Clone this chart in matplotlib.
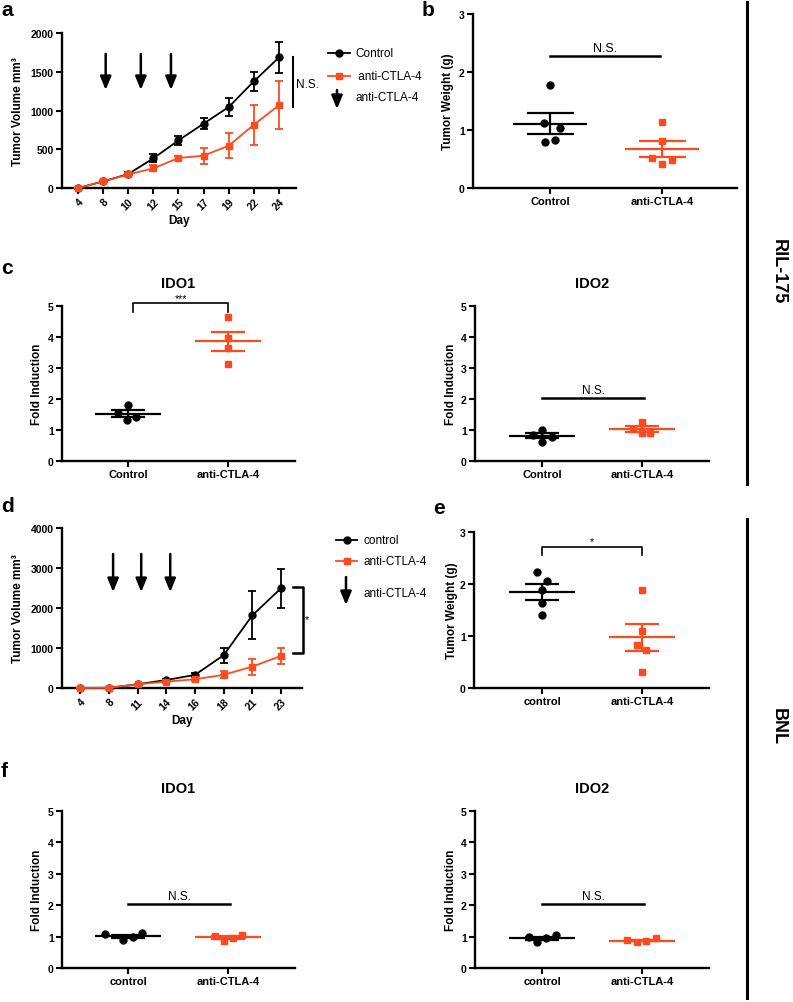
import numpy as np
import matplotlib.pyplot as plt
from matplotlib.lines import Line2D

plt.rcParams['font.family'] = ['Liberation Sans', 'DejaVu Sans']

# ---- data ----
# a: RIL-175 tumour growth
days_a = ['4', '8', '10', '12', '15', '17', '19', '22', '24']
ctrl_a = [0, 85, 180, 383, 615, 830, 1045, 1376, 1684]
ctrl_a_sem = [0, 12, 25, 50, 55, 75, 110, 125, 200]
anti_a = [0, 85, 175, 254, 387, 417, 546, 816, 1068]
anti_a_sem = [0, 12, 25, 40, 30, 105, 160, 255, 310]
arrows_a = [1.1, 2.5, 3.7]

# b: RIL-175 tumour weight
b_ctrl = [1.77, 1.12, 1.03, 0.79, 0.835]
b_anti = [1.13, 0.81, 0.52, 0.49, 0.41]

# c: RIL-175 IDO1 / IDO2
c1_ctrl = [1.82, 1.54, 1.43, 1.31]
c1_anti = [4.65, 3.98, 3.66, 3.14]
c2_ctrl = [1.00, 0.84, 0.785, 0.61]
c2_anti = [1.27, 1.04, 0.91, 0.89]

# d: BNL tumour growth
days_d = ['4', '8', '11', '14', '16', '18', '21', '23']
ctrl_d = [0, 5, 92, 200, 326, 820, 1816, 2494]
ctrl_d_sem = [0, 5, 15, 30, 40, 185, 600, 485]
anti_d = [0, 5, 90, 160, 218, 330, 536, 803]
anti_d_sem = [0, 5, 15, 40, 40, 90, 200, 200]
arrows_d = [1.15, 2.13, 3.14]

# e: BNL tumour weight
e_ctrl = [2.24, 2.06, 1.88, 1.63, 1.40]
e_anti = [1.89, 1.10, 0.83, 0.73, 0.31]

# f: BNL IDO1 / IDO2
f1_ctrl = [1.08, 0.88, 0.98, 1.11]
f1_anti = [1.02, 0.87, 0.96, 1.06]
f2_ctrl = [1.00, 0.83, 0.94, 1.04]
f2_anti = [0.89, 0.82, 0.85, 0.94]

# horizontal scatter of the dots (layout only)
b_dx = ([0, -0.054, 0.089, -0.05, 0.039], [0, 0, -0.09, 0.09, 0])
c1_dx = ([0, -0.1, 0.083, -0.007], [0, 0, 0, 0])
c2_dx = ([0, -0.09, 0.1, 0], [0, -0.09, 0.083, 0])
e_dx = ([-0.05, 0.05, 0, 0, 0], [0, 0, -0.05, 0.043, 0])
f1_dx = ([-0.233, -0.05, 0.05, 0.143], [-0.133, -0.043, 0.05, 0.143])
f2_dx = ([-0.133, -0.05, 0.04, 0.14], [-0.147, -0.05, 0.043, 0.137])

RED = '#FF4A1F'
W, H = 793, 1003
fig = plt.figure(figsize=(W / 100, H / 100), dpi=100)
ARROW = '-|>,head_width=0.33,head_length=0.8'


def fx(x):
    return x / W


def fy(y):
    return 1 - y / H


def px_axes(l, t, r, b):
    return fig.add_axes([l / W, 1 - b / H, (r - l) / W, (b - t) / H])


def style(ax, ylim, yticks, ylabel, label_x):
    ax.set_ylim(ylim)
    ax.set_yticks(yticks)
    ax.set_yticklabels([str(t) for t in yticks], fontweight='bold', fontsize=7.5)
    for s in ['top', 'right']:
        ax.spines[s].set_visible(False)
    for s in ['left', 'bottom']:
        ax.spines[s].set_linewidth(1.7)
    ax.tick_params(width=1.5, length=4, pad=2)
    ax.set_ylabel(ylabel, fontweight='bold', fontsize=8.5, va='center')
    ax.yaxis.set_label_coords(label_x, 0.5)


def growth(ax, days, ctrl, ctrl_sem, anti, anti_sem):
    x = np.arange(len(days))
    ax.errorbar(x, ctrl, yerr=ctrl_sem, color='k', marker='o', ms=5, lw=1.3,
                elinewidth=1.3, capsize=2.6, capthick=1.3, zorder=3, clip_on=False)
    ax.errorbar(x, anti, yerr=anti_sem, color=RED, marker='s', ms=5, lw=1.3,
                elinewidth=1.3, capsize=2.6, capthick=1.3, zorder=4, clip_on=False)
    ax.set_xticks(x)
    ax.set_xticklabels(days, rotation=45, ha='right', rotation_mode='anchor',
                       fontweight='bold', fontsize=7.5)
    ax.set_xlabel('Day', fontweight='bold', fontsize=8.5, labelpad=2)


def injection_arrows(ax, xs, y0, y1):
    for xi in xs:
        ax.annotate('', xy=(xi, y1), xytext=(xi, y0),
                    arrowprops=dict(arrowstyle=ARROW, color='k', lw=1.8,
                                    shrinkA=0, shrinkB=0))


def dots(ax, ctrl, anti, dx, labels, sem_w=0.17):
    for i, (vals, off, col, mk) in enumerate([(ctrl, dx[0], 'k', 'o'),
                                              (anti, dx[1], RED, 's')]):
        v = np.array(vals)
        m = v.mean()
        se = v.std(ddof=1) / np.sqrt(len(v))
        ax.plot(i + np.array(off), v, mk, color=col, ms=5, zorder=3, clip_on=False)
        ax.hlines(m, i - 0.33, i + 0.33, color=col, lw=1.6)
        ax.hlines([m - se, m + se], i - sem_w, i + sem_w, color=col, lw=1.6)
        ax.vlines(i, m - se, m + se, color=col, lw=1.6)
    ax.set_xticks([0, 1])
    ax.set_xticklabels(labels, fontweight='bold', fontsize=8)
    ax.tick_params(axis='x', pad=3.5)


def ns_bar(ax, y, ty):
    ax.plot([0, 1.02], [y, y], color='k', lw=1.8, clip_on=False)
    ax.text(0.51, ty, 'N.S.', ha='center', va='center', fontsize=8.5)


def bracket(ax, x0, x1, ytop, ydrop, txt, ty):
    ax.plot([x0, x0, x1, x1], [ydrop, ytop, ytop, ydrop], color='k', lw=1.2, clip_on=False)
    ax.text((x0 + x1) / 2, ty, txt, ha='center', va='center', fontsize=7.5)


def legend(x_line, x_text, ys, names, x_arrow, arrow_y, arrow_ty):
    for y, name, col, mk in zip(ys, names, ['k', RED], ['o', 's']):
        fig.add_artist(Line2D([fx(x_line[0]), fx(x_line[1])], [fy(y), fy(y)], color=col, lw=1.3))
        fig.add_artist(Line2D([fx(sum(x_line) / 2)], [fy(y)], color=col, marker=mk, ms=5))
        fig.text(fx(x_text), fy(y), name, ha='left', va='center', fontsize=8.5)
    ax_any = fig.axes[0]
    ax_any.annotate('', xy=(fx(x_arrow), fy(arrow_y[1])), xycoords='figure fraction',
                    xytext=(fx(x_arrow), fy(arrow_y[0])), textcoords='figure fraction',
                    arrowprops=dict(arrowstyle=ARROW, color='k', lw=1.8,
                                    shrinkA=0, shrinkB=0),
                    annotation_clip=False)
    fig.text(fx(x_text), fy(arrow_ty), 'anti-CTLA-4', ha='left', va='center', fontsize=8.5)


# ---- a ----
ax = px_axes(62, 34, 296, 189)
growth(ax, days_a, ctrl_a, ctrl_a_sem, anti_a, anti_a_sem)
ax.set_xlim(-0.64, 8.68)
style(ax, (0, 2000), [0, 500, 1000, 1500, 2000], 'Tumor Volume mm³', -0.19)
injection_arrows(ax, arrows_a, 1730, 1265)
ax.plot([8.56, 8.56], [1690, 1045], color='k', lw=1.5, clip_on=False)
ax.text(8.68, 1342, 'N.S.', ha='left', va='center', fontsize=8.5)
legend((328, 350), 355, (54, 77), ['Control', ' anti-CTLA-4'], 337, (91, 110), 98)

# ---- b ----
ax = px_axes(473, 15, 737, 189)
dots(ax, b_ctrl, b_anti, b_dx, ['Control', 'anti-CTLA-4'], sem_w=0.21)
ax.set_xlim(-0.69, 1.67)
style(ax, (0, 3), [0, 1, 2, 3], 'Tumor Weight (g)', -0.095)
ax.plot([0, 0.98], [2.27, 2.27], color='k', lw=1.8)
ax.text(0.49, 2.41, 'N.S.', ha='center', va='center', fontsize=9)

# ---- c ----
ax = px_axes(62, 307, 295, 462)
dots(ax, c1_ctrl, c1_anti, c1_dx, ['Control', 'anti-CTLA-4'])
ax.set_xlim(-0.66, 1.67)
style(ax, (0, 5), [0, 1, 2, 3, 4, 5], 'Fold Induction', -0.107)
ax.set_title('IDO1', fontweight='bold', fontsize=10.5, pad=14)
bracket(ax, 0.05, 1.0, 5.11, 4.81, '***', 5.24)

ax = px_axes(475, 307, 709, 462)
dots(ax, c2_ctrl, c2_anti, c2_dx, ['Control', 'anti-CTLA-4'])
ax.set_xlim(-0.67, 1.67)
style(ax, (0, 5), [0, 1, 2, 3, 4, 5], 'Fold Induction', -0.103)
ax.set_title('IDO2', fontweight='bold', fontsize=10.5, pad=14)
ns_bar(ax, 2.02, 2.28)

# ---- d ----
ax = px_axes(62, 529, 302, 689)
growth(ax, days_d, ctrl_d, ctrl_d_sem, anti_d, anti_d_sem)
ax.set_xlim(-0.63, 7.73)
style(ax, (0, 4000), [0, 1000, 2000, 3000, 4000], 'Tumor Volume mm³', -0.183)
injection_arrows(ax, arrows_d, 3350, 2400)
ax.plot([7.42, 7.77, 7.77, 7.42], [2525, 2525, 875, 875], color='k', lw=1.8, clip_on=False)
ax.text(7.91, 1725, '*', ha='center', va='center', fontsize=7.5)
legend((336, 357), 363, (541, 562), ['control', 'anti-CTLA-4'], 346, (578, 606), 594)

# ---- e ----
ax = px_axes(474, 533, 709, 689)
dots(ax, e_ctrl, e_anti, e_dx, ['control', 'anti-CTLA-4'])
ax.set_xlim(-0.68, 1.67)
style(ax, (0, 3), [0, 1, 2, 3], 'Tumor Weight (g)', -0.094)
bracket(ax, 0.0, 1.0, 2.71, 2.56, '*', 2.82)

# ---- f ----
ax = px_axes(62, 812, 295, 969)
dots(ax, f1_ctrl, f1_anti, f1_dx, ['control', 'anti-CTLA-4'])
ax.set_xlim(-0.66, 1.67)
style(ax, (0, 5), [0, 1, 2, 3, 4, 5], 'Fold Induction', -0.107)
ax.set_title('IDO1', fontweight='bold', fontsize=10.5, pad=14)
ns_bar(ax, 2.04, 2.29)

ax = px_axes(475, 812, 709, 969)
dots(ax, f2_ctrl, f2_anti, f2_dx, ['control', 'anti-CTLA-4'])
ax.set_xlim(-0.67, 1.67)
style(ax, (0, 5), [0, 1, 2, 3, 4, 5], 'Fold Induction', -0.103)
ax.set_title('IDO2', fontweight='bold', fontsize=10.5, pad=14)
ns_bar(ax, 2.04, 2.29)

# ---- panel letters, dividers, model names ----
for letter, x, y in [('a', 1, 10), ('b', 422, 10), ('c', 1, 268),
                     ('d', 1, 507), ('e', 433, 508), ('f', 1, 772)]:
    fig.text(fx(x), fy(y), letter, ha='left', va='center', fontsize=15, fontweight='bold')

fig.add_artist(Line2D([fx(747), fx(747)], [fy(3), fy(485)], color='k', lw=2.2))
fig.add_artist(Line2D([fx(747), fx(747)], [fy(520), fy(999)], color='k', lw=2.2))
fig.text(fx(778), fy(272), 'RIL-175', rotation=-90, ha='center', va='center',
         fontsize=13, fontweight='bold')
fig.text(fx(778), fy(727), 'BNL', rotation=-90, ha='center', va='center',
         fontsize=13, fontweight='bold')

fig.savefig('out.png', dpi=100)
